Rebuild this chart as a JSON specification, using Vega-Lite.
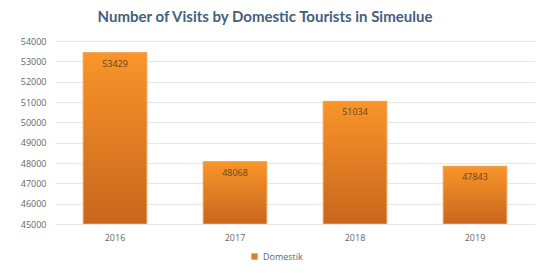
{
  "$schema": "https://vega.github.io/schema/vega-lite/v6.json",
  "width": 480,
  "height": 183,
  "autosize": "none",
  "padding": {"left": 55, "top": 41, "right": 12, "bottom": 49},
  "background": "white",
  "title": {
    "text": "Number of Visits by Domestic Tourists in Simeulue",
    "font": "Lato",
    "fontSize": 15,
    "fontWeight": "bold",
    "color": "#44607c",
    "offset": 12,
    "dx": -30
  },
  "data": {
    "values": [
      {"year": "2016", "visits": 53429, "series": "Domestik"},
      {"year": "2017", "visits": 48068, "series": "Domestik"},
      {"year": "2018", "visits": 51034, "series": "Domestik"},
      {"year": "2019", "visits": 47843, "series": "Domestik"}
    ]
  },
  "encoding": {
    "x": {
      "field": "year",
      "type": "ordinal",
      "scale": {"paddingInner": 0.47, "paddingOuter": 0.235},
      "axis": {
        "title": null,
        "labelAngle": 0,
        "domain": false,
        "ticks": false,
        "labelColor": "#666666",
        "labelFont": "Open Sans",
        "labelFontSize": 9,
        "labelPadding": 9
      }
    },
    "y": {
      "field": "visits",
      "type": "quantitative",
      "scale": {"domain": [45000, 54000], "zero": false, "nice": false},
      "axis": {
        "title": null,
        "values": [45000, 46000, 47000, 48000, 49000, 50000, 51000, 52000, 53000, 54000],
        "format": "d",
        "domain": false,
        "ticks": false,
        "labelColor": "#666666",
        "labelFont": "Open Sans",
        "labelFontSize": 9,
        "labelPadding": 9,
        "gridColor": "#e6e6e6"
      }
    }
  },
  "layer": [
    {
      "mark": {"type": "bar", "clip": true},
      "encoding": {
        "y2": {"datum": 45000},
        "color": {
          "field": "series",
          "type": "nominal",
          "scale": {"range": ["#e3801f"]},
          "legend": {
            "title": null,
            "orient": "none",
            "legendX": 195,
            "legendY": 211,
            "symbolType": "square",
            "symbolSize": 40,
            "labelColor": "#666666",
            "labelFont": "Open Sans",
            "labelFontSize": 9
          }
        }
      }
    },
    {
      "mark": {
        "type": "bar",
        "clip": true,
        "stroke": "#f3a55a",
        "strokeWidth": 1,
        "color": {
          "gradient": "linear",
          "x1": 0, "y1": 0, "x2": 0, "y2": 1,
          "stops": [
            {"offset": 0, "color": "#f9952a"},
            {"offset": 1, "color": "#c8661d"}
          ]
        }
      },
      "encoding": {"y2": {"datum": 45000}}
    },
    {
      "mark": {"type": "text", "baseline": "top", "dy": 7, "fontSize": 9, "font": "Open Sans", "color": "#6b4514"},
      "encoding": {"text": {"field": "visits", "type": "quantitative", "format": "d"}}
    }
  ],
  "config": {"view": {"stroke": null}}
}
